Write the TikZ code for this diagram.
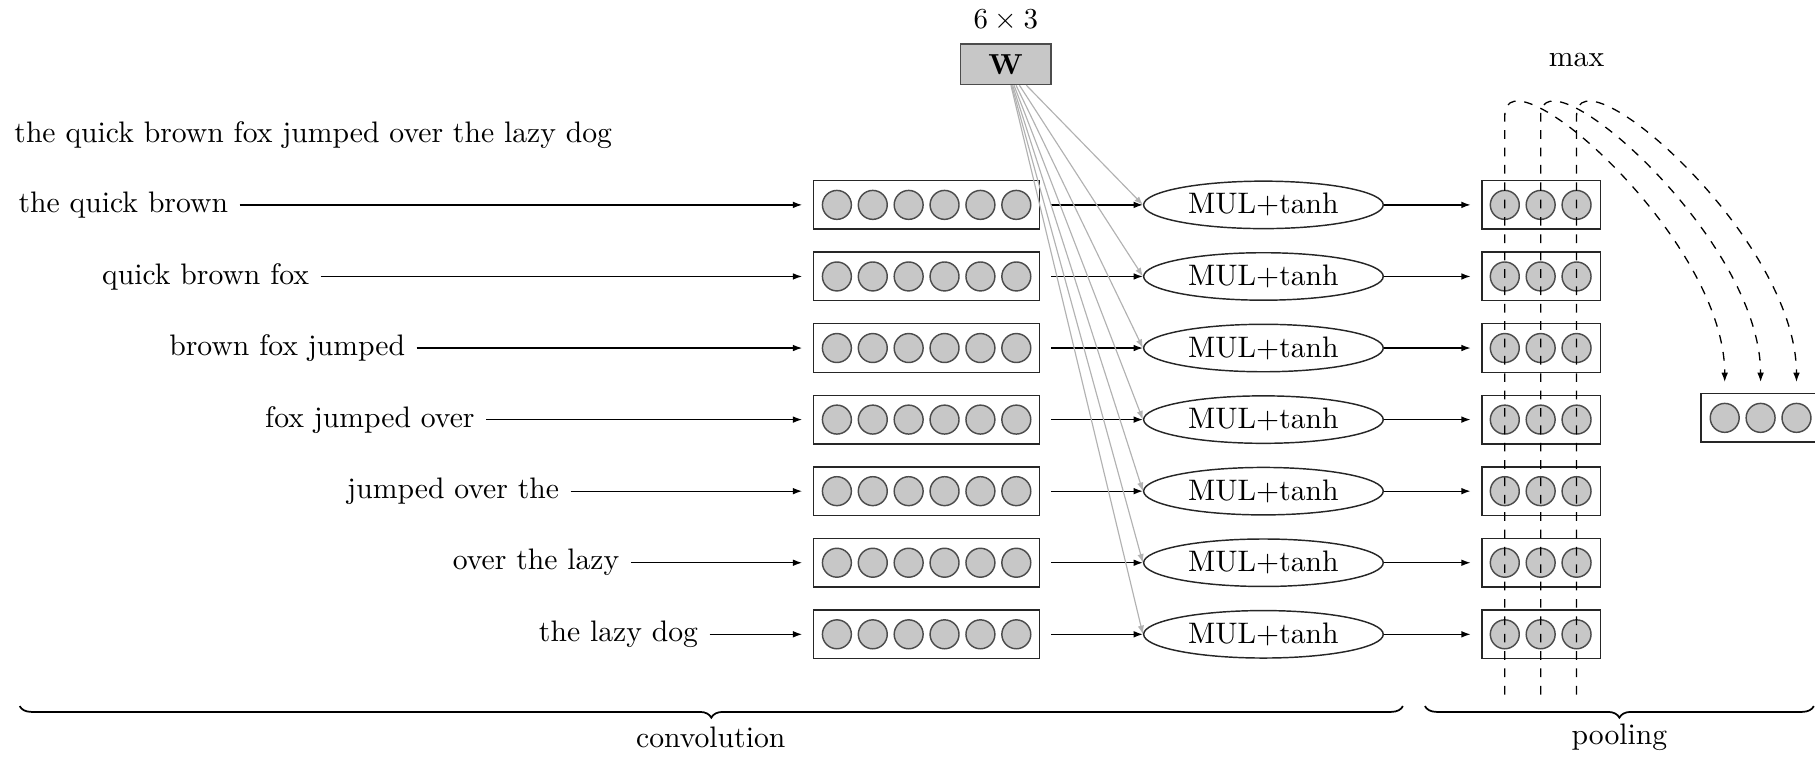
\documentclass[tikz,border=0pt]{standalone}
\usetikzlibrary{arrows.meta,shapes.geometric,decorations.pathreplacing,calc}
\definecolor{cfill}{gray}{0.78}
\definecolor{cedge}{gray}{0.3}
\definecolor{wline}{gray}{0.7}
\begin{document}
\begin{tikzpicture}[x=0.4pt,y=-0.4pt,
  every node/.style={font=\fontsize{10.25pt}{12pt}\selectfont},
  vecbox/.style={draw=black!85, line width=0.5pt, inner sep=0pt, outer sep=4pt, minimum height=16.8pt},
  unit/.style={circle, draw=cedge, fill=cfill, minimum size=10pt, inner sep=0pt, line width=0.5pt},
  mul/.style={ellipse, draw=black!85, line width=0.5pt, minimum width=82.8pt, minimum height=16.4pt, inner sep=0pt},
  lab/.style={anchor=east, inner sep=0pt, outer sep=4pt},
  arr/.style={-{Latex[length=3.2pt,width=2.3pt]}, line width=0.45pt},
  warr/.style={draw=wline, -{Latex[length=3pt,width=2.2pt]}, line width=0.4pt},
  maxline/.style={dashed, line width=0.45pt},
  bracestyle/.style={decorate, decoration={brace, mirror, amplitude=4pt}, line width=0.6pt}
]
\useasboundingbox (0,0) rectangle (1568,654);

% weight matrix
\node (dim) at (869,18) {$6\times 3$};
\node[draw=cedge, fill=cfill, line width=0.5pt, minimum width=31.2pt, minimum height=14pt, inner sep=0pt] (W) at (869,55.5) {$\mathbf{W}$};
\node (mx) at (1362,52) {max};

% sentence
\node[anchor=west, inner sep=0pt] (sent) at (12,116.5) {the quick brown fox jumped over the lazy dog};

% rows
\foreach \i/\xe/\t in {1/197/the quick brown, 2/267/quick brown fox, 3/350/brown fox jumped, 4/410/fox jumped over, 5/483/jumped over the, 6/535/over the lazy, 7/603/the lazy dog} {
  \pgfmathsetmacro\yy{177+61.83*(\i-1)}
  \node[lab] (L\i) at (\xe+10,\yy) {\t};
  \node[vecbox, minimum width=78pt] (B\i) at (800.5,\yy) {};
  \foreach \k in {0,...,5} {\node[unit] (b\i\k) at (723+31*\k,\yy) {};}
  \node[mul] (M\i) at (1091.5,\yy) {MUL+tanh};
  \node[vecbox, minimum width=40.8pt] (P\i) at (1331.5,\yy) {};
  \foreach \k in {0,1,2} {\node[unit] (p\i\k) at (1300+31*\k,\yy) {};}
  \draw[arr] (L\i) -- (B\i);
  \draw[arr] (B\i) -- (M\i);
  \draw[arr] (M\i) -- (P\i);
  \draw[warr] (W) -- (M\i.west);
}

% pooled vector
\node[vecbox, minimum width=40.8pt] (F) at (1520.5,361) {};
\foreach \k in {0,1,2} {\node[unit] (f\k) at (1490+31*\k,361) {};}

% max-pooling dashed connectors
\foreach \k in {0,1,2} {
  \coordinate (db\k) at (1300+31*\k,600);
  \coordinate (dt\k) at (1300+31*\k,100);
  \coordinate (e\k) at (f\k |- F.north);
  \draw[maxline, arr] (db\k) -- (dt\k) .. controls ($(dt\k)+(0,-60)$) and ($(e\k)+(0,-125)$) .. (e\k);
}

% braces
\coordinate (cl) at (17,610);
\coordinate (cr) at (1212,610);
\draw[bracestyle] (cl) -- (cr);
\node (conv) at (614,637) {convolution};
\coordinate (pl) at (1231,610);
\coordinate (pr) at (1567,610);
\draw[bracestyle] (pl) -- (pr);
\node (pool) at (1399,637) {pooling};
\end{tikzpicture}
\end{document}
